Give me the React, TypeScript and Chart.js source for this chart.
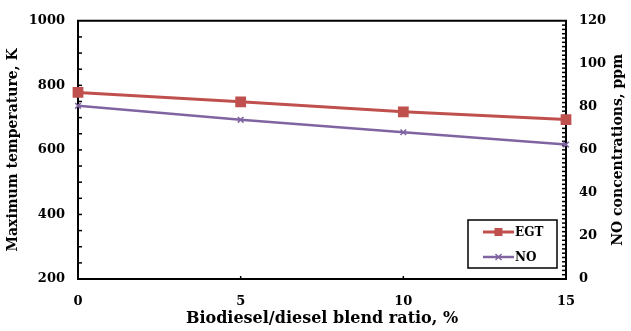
import React, { useEffect, useRef } from "react";
import { Chart, registerables } from "chart.js";

Chart.register(...registerables);

// ---- data ----
const blendRatios = [0, 5, 10, 15];
const egtValues = [778, 749, 718, 694];
const noValues = [80.5, 74, 68.2, 62.5];
const seriesNames = ["EGT", "NO"];
const xTitle = "Biodiesel/diesel blend ratio, %";
const yLeftTitle = "Maximum temperature, K";
const yRightTitle = "NO concentrations, ppm";

const FONT = "'DejaVu Serif', serif";
const RED = "#c0504d";
const PURPLE = "#8064a2";

const decorPlugin = {
  id: "decor",
  beforeDatasetsDraw(chart: any) {
    const { ctx, chartArea: ca, scales } = chart;
    ctx.save();
    ctx.strokeStyle = "#000";
    ctx.lineWidth = 2;
    ctx.beginPath();
    ctx.moveTo(ca.left - 1, ca.top);
    ctx.lineTo(ca.right + 1, ca.top);
    ctx.stroke();
    ctx.lineWidth = 1.5;
    const seg = (x1: number, y1: number, x2: number, y2: number) => {
      ctx.beginPath();
      ctx.moveTo(x1, y1);
      ctx.lineTo(x2, y2);
      ctx.stroke();
    };
    for (let v = 250; v < 1000; v += 50) {
      const p = scales.y.getPixelForValue(v);
      seg(ca.left, p, ca.left + 4, p);
    }
    for (let v = 2; v < 120; v += 2) {
      const p = scales.y1.getPixelForValue(v);
      seg(ca.right - 4, p, ca.right, p);
    }
    for (const v of [5, 10]) {
      const p = scales.x.getPixelForValue(v);
      seg(p, ca.bottom, p, ca.bottom - 3);
    }
    ctx.restore();
  },
  afterDraw(chart: any) {
    const { ctx, chartArea: ca } = chart;
    ctx.save();
    // right axis title (reads bottom-to-top)
    ctx.translate(618, (ca.top + ca.bottom) / 2);
    ctx.rotate(-Math.PI / 2);
    ctx.fillStyle = "#000";
    ctx.font = `bold 14px ${FONT}`;
    ctx.textAlign = "center";
    ctx.textBaseline = "middle";
    ctx.fillText(yRightTitle, 0, 0);
    ctx.restore();

    // legend box inside the plot
    ctx.save();
    const bw = 89;
    const bh = 48;
    const bx = ca.right - 9 - bw;
    const by = ca.bottom - 11 - bh;
    ctx.fillStyle = "#fff";
    ctx.fillRect(bx, by, bw, bh);
    ctx.strokeStyle = "#000";
    ctx.lineWidth = 1.5;
    ctx.strokeRect(bx, by, bw, bh);
    chart.data.datasets.forEach((ds: any, i: number) => {
      const cy = by + 12 + i * 25;
      const lx1 = bx + 15;
      const lx2 = bx + 46;
      ctx.strokeStyle = ds.borderColor;
      ctx.lineWidth = ds.borderWidth;
      ctx.beginPath();
      ctx.moveTo(lx1, cy);
      ctx.lineTo(lx2, cy);
      ctx.stroke();
      const mx = (lx1 + lx2) / 2;
      if (ds.pointStyle === "rect") {
        ctx.fillStyle = ds.pointBackgroundColor;
        ctx.fillRect(mx - 4, cy - 4, 8, 8);
      } else {
        ctx.lineWidth = 1.5;
        ctx.beginPath();
        ctx.moveTo(mx - 3, cy - 3);
        ctx.lineTo(mx + 3, cy + 3);
        ctx.moveTo(mx - 3, cy + 3);
        ctx.lineTo(mx + 3, cy - 3);
        ctx.stroke();
      }
      ctx.fillStyle = "#000";
      ctx.font = `bold 12px ${FONT}`;
      ctx.textAlign = "left";
      ctx.textBaseline = "middle";
      ctx.fillText(ds.label, lx2 + 1, cy + 1);
    });
    ctx.restore();
  },
};

export default function App() {
  const ref = useRef<HTMLCanvasElement | null>(null);

  useEffect(() => {
    if (!ref.current) return;
    const tickFont = { family: FONT, size: 13, weight: "bold" as const };
    const plain = (v: any) => String(v);
    const chart = new Chart(ref.current, {
      type: "line",
      data: {
        datasets: [
          {
            label: seriesNames[0],
            data: blendRatios.map((x, i) => ({ x, y: egtValues[i] })),
            yAxisID: "y",
            borderColor: RED,
            backgroundColor: RED,
            pointBackgroundColor: RED,
            pointBorderColor: RED,
            borderWidth: 3,
            pointStyle: "rect",
            pointRadius: 5.5,
            clip: false as any,
          },
          {
            label: seriesNames[1],
            data: blendRatios.map((x, i) => ({ x, y: noValues[i] })),
            yAxisID: "y1",
            borderColor: PURPLE,
            backgroundColor: PURPLE,
            pointBackgroundColor: PURPLE,
            pointBorderColor: PURPLE,
            borderWidth: 2.5,
            pointBorderWidth: 1.5,
            pointStyle: "crossRot",
            pointRadius: 4,
            clip: false as any,
          },
        ],
      },
      options: {
        animation: false,
        responsive: true,
        maintainAspectRatio: false,
        layout: { padding: { top: 18, left: 0, right: 0, bottom: 0 } },
        plugins: {
          legend: { display: false },
          tooltip: { enabled: false },
        },
        scales: {
          x: {
            type: "linear",
            min: 0,
            max: 15,
            ticks: { stepSize: 5, font: tickFont, color: "#000", padding: 15, callback: plain },
            grid: { display: false, drawTicks: false },
            border: { display: true, color: "#000", width: 2 },
            title: {
              display: true,
              text: xTitle,
              color: "#000",
              font: { family: FONT, size: 16, weight: "bold" },
              padding: { top: 0, bottom: 3 },
            },
            afterFit: (s: any) => {
              s.height = 52;
            },
          },
          y: {
            type: "linear",
            position: "left",
            min: 200,
            max: 1000,
            ticks: { stepSize: 200, font: tickFont, color: "#000", padding: 13, callback: plain },
            grid: { display: false, drawTicks: false },
            border: { display: true, color: "#000", width: 2 },
            title: {
              display: true,
              text: yLeftTitle,
              color: "#000",
              font: { family: FONT, size: 14, weight: "bold" },
              padding: { top: 5, bottom: 0 },
            },
            afterFit: (s: any) => {
              s.width = 78;
            },
          },
          y1: {
            type: "linear",
            position: "right",
            min: 0,
            max: 120,
            ticks: { stepSize: 20, font: tickFont, color: "#000", padding: 13, callback: plain },
            grid: { display: false, drawTicks: false },
            border: { display: true, color: "#000", width: 2 },
            afterFit: (s: any) => {
              s.width = 65;
            },
          },
        },
      },
      plugins: [decorPlugin],
    });
    return () => chart.destroy();
  }, []);

  return (
    <div style={{ position: "fixed", left: 0, top: 0, width: 631, height: 331, background: "#fff" }}>
      <canvas ref={ref} />
    </div>
  );
}
